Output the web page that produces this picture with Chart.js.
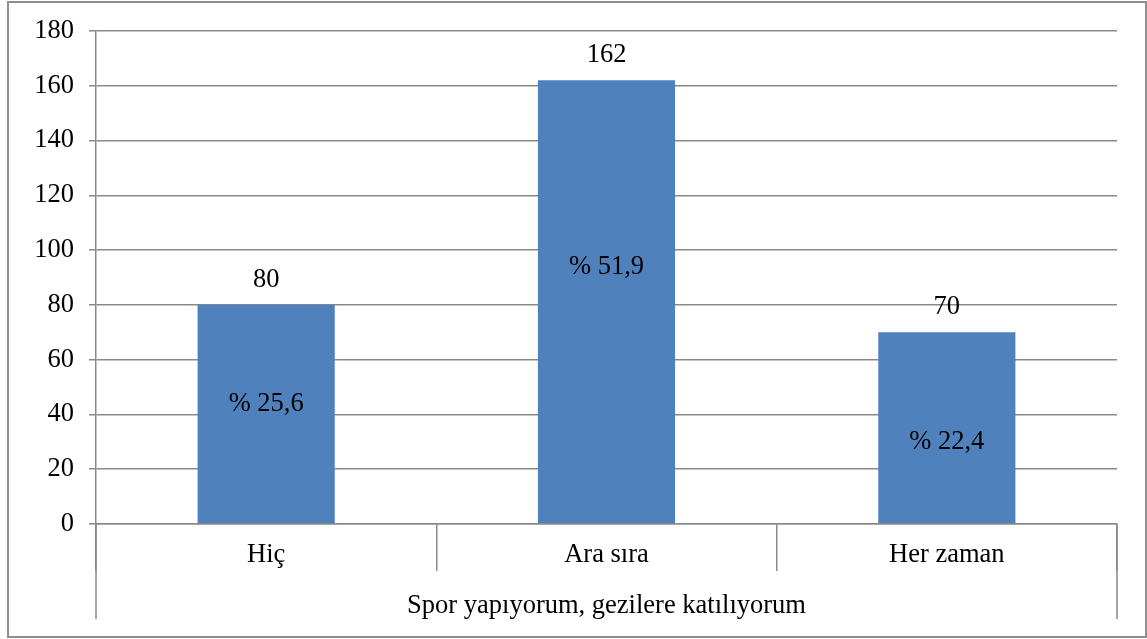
<!DOCTYPE html>
<html>
<head>
<meta charset="utf-8">
<script src="https://cdn.jsdelivr.net/npm/chart.js@4.4.1/dist/chart.umd.min.js"></script>
<style>
html,body{margin:0;padding:0;background:#fff;}
#wrap{width:1147px;height:639px;position:relative;}
</style>
</head>
<body>
<div id="wrap"><canvas id="c" width="1147" height="639"></canvas></div>
<script>
const categories = ['Hiç', 'Ara sıra', 'Her zaman'];
const counts = [80, 162, 70];
const percentLabels = ['% 25,6', '% 51,9', '% 22,4'];
const axisTitle = 'Spor yapıyorum, gezilere katılıyorum';
const yTicks = [0, 20, 40, 60, 80, 100, 120, 140, 160, 180];

const FONT = "'Liberation Serif', 'Times New Roman', serif";
const FSIZE = 26.5;
const GRID = '#898989';

const decor = {
  id: 'decor',
  beforeDraw(chart) {
    const ctx = chart.ctx;
    ctx.save();
    ctx.fillStyle = '#fff';
    ctx.fillRect(0, 0, chart.width, chart.height);
    ctx.strokeStyle = '#8f8f8f';
    ctx.lineWidth = 2;
    ctx.strokeRect(8, 2, chart.width - 9, chart.height - 4);
    ctx.restore();
  },
  afterDraw(chart, args, opts) {
    const ctx = chart.ctx;
    const a = chart.chartArea;
    const x = chart.scales.x;
    const y = chart.scales.y;
    ctx.save();
    ctx.strokeStyle = GRID;
    ctx.lineWidth = 1.5;
    ctx.beginPath();
    ctx.moveTo(a.left, a.bottom);
    ctx.lineTo(a.left, a.bottom + 95);
    ctx.moveTo(a.right, a.bottom);
    ctx.lineTo(a.right, a.bottom + 95);
    ctx.stroke();
    ctx.fillStyle = '#000';
    ctx.font = FSIZE + 'px ' + FONT;
    ctx.textAlign = 'center';
    ctx.textBaseline = 'middle';
    categories.forEach((c, i) => {
      ctx.fillText(c, x.getPixelForValue(i), a.bottom + 31);
    });
    ctx.fillText(axisTitle, (a.left + a.right) / 2, a.bottom + 82);
    const meta = chart.getDatasetMeta(0);
    meta.data.forEach((bar, i) => {
      ctx.fillText(String(counts[i]), bar.x, bar.y - 25);
      ctx.fillText(percentLabels[i], bar.x, y.getPixelForValue(opts.pctAt[i]));
    });
    ctx.restore();
  }
};

new Chart(document.getElementById('c'), {
  type: 'bar',
  data: {
    labels: categories,
    datasets: [{
      data: counts,
      backgroundColor: '#4F81BD',
      borderWidth: 0,
      barPercentage: 0.403,
      categoryPercentage: 1.0
    }]
  },
  options: {
    responsive: false,
    animation: false,
    events: [],
    layout: { padding: { top: 30, right: 30, left: 0, bottom: 0 } },
    plugins: {
      legend: { display: false },
      tooltip: { enabled: false },
      decor: { pctAt: [43.7, 93.7, 29.9] }
    },
    scales: {
      x: {
        grid: {
          display: true,
          drawOnChartArea: false,
          offset: true,
          tickLength: 47,
          color: GRID,
          lineWidth: 1.5
        },
        border: { display: true, color: GRID, width: 1.5 },
        ticks: { display: false },
        afterFit(s) { s.height = 115; }
      },
      y: {
        min: 0,
        max: 180,
        afterBuildTicks(s) { s.ticks = yTicks.map(v => ({ value: v })); },
        ticks: {
          stepSize: 20,
          color: '#000',
          font: { family: FONT, size: FSIZE },
          padding: 15
        },
        grid: { color: GRID, lineWidth: 1.5, tickLength: 7 },
        border: { display: true, color: GRID, width: 1.5 },
        afterFit(s) { s.width = 96; }
      }
    }
  },
  plugins: [decor]
});
</script>
</body>
</html>
